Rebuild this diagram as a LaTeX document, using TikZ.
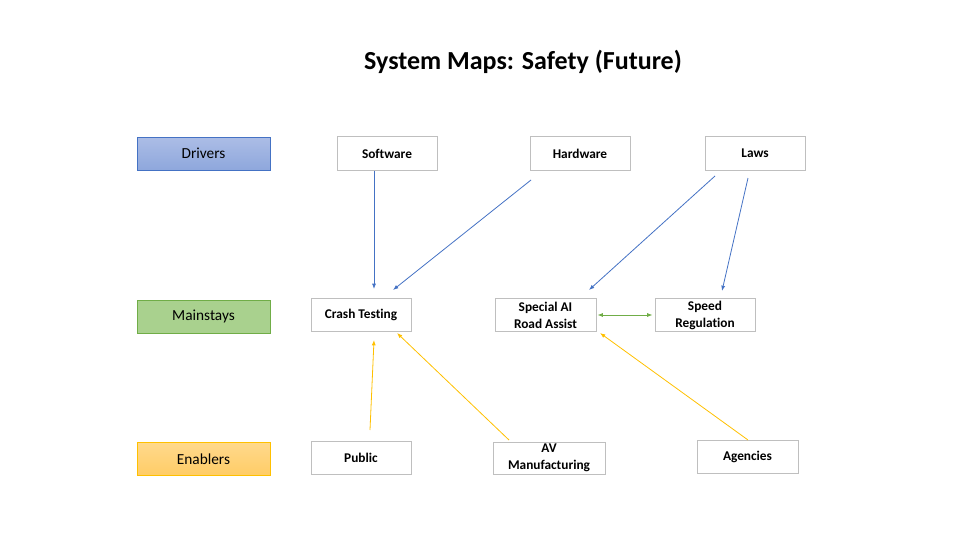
\documentclass[tikz,border=0pt]{standalone}
\usepackage{fontspec}
\setmainfont{Carlito}[Ligatures=NoCommon]
\usetikzlibrary{arrows.meta}

\definecolor{drvline}{RGB}{68,114,196}
\definecolor{drvtop}{RGB}{172,189,230}
\definecolor{drvbot}{RGB}{142,167,220}
\definecolor{mstline}{RGB}{112,173,71}
\definecolor{mstfill}{RGB}{169,209,142}
\definecolor{enbline}{RGB}{255,192,0}
\definecolor{enbtop}{RGB}{255,217,140}
\definecolor{enbbot}{RGB}{255,204,102}
\definecolor{boxline}{RGB}{191,191,191}

\tikzset{every picture/.style={line width=0.75pt}}
\tikzset{
  catbox/.style={minimum width=99.75pt,minimum height=24.75pt,inner sep=0pt,font=\fontsize{11.5}{13}\selectfont},
  itembox/.style={draw=boxline,fill=white,minimum width=75pt,minimum height=25pt,inner sep=0pt,align=center,font=\bfseries\fontsize{10}{12.75}\selectfont},
  drvarrow/.style={draw=drvline,line width=0.6pt,-{Latex[length=4pt,width=3pt]}},
  mstarrow/.style={draw=mstline,line width=0.6pt,{Latex[length=4pt,width=3pt]}-{Latex[length=4pt,width=3pt]}},
  enbarrow/.style={draw=enbline,line width=0.6pt,-{Latex[length=4pt,width=3pt]}}
}

\begin{document}
\begin{tikzpicture}[x=0.75pt,y=0.75pt,yscale=-1,xscale=1]
\useasboundingbox (0,0) rectangle (960,540);

% Title
\node (title) at (523,62) {\bfseries\fontsize{19.5}{23}\selectfont System Maps: Safety (Future)};

%Shape: Rectangle (categories)
\node [catbox,draw=drvline,top color=drvtop,bottom color=drvbot] (drivers) at (203.5,153.5) {Drivers};
\node [catbox,draw=mstline,fill=mstfill] (mainstays) at (203.5,316.5) {Mainstays};
\node [catbox,draw=enbline,top color=enbtop,bottom color=enbbot] (enablers) at (203.5,459) {Enablers};

% Drivers
\node [itembox] (software) at (387,153.5) {Software};
\node [itembox] (hardware) at (580,153.5) {Hardware};
\node [itembox] (laws) at (755,153.5) {Laws};

% Mainstays
\node [itembox] (crash) at (361,315) {Crash Testing};
\node [itembox,minimum width=75.75pt] (special) at (545.5,315) {Special AI\\Road Assist};
\node [itembox] (speed) at (705,315) {Speed\\Regulation};

% Enablers
\node [itembox] (public) at (361,458) {Public};
\node [itembox,minimum width=84pt,minimum height=24pt] (avman) at (549,458) {AV\\Manufacturing};
\node [itembox,minimum width=75.75pt] (agencies) at (747.5,457) {Agencies};

% free ends of the connectors
\coordinate (sw-in) at (374,289);
\coordinate (hw-out) at (531,180);
\coordinate (hw-in) at (393,290);
\coordinate (lw-out1) at (715,176);
\coordinate (lw-in1) at (589,290);
\coordinate (lw-out2) at (748,178);
\coordinate (lw-in2) at (722,291);
\coordinate (pb-out) at (370,430);
\coordinate (pb-in) at (374,340);
\coordinate (av-out) at (509,440);
\coordinate (av-in) at (397,333);
\coordinate (ag-out) at (748,440);
\coordinate (ag-in) at (600,333);

%Straight Lines (drivers)
\draw [drvarrow] (software.south -| sw-in) -- (sw-in);
\draw [drvarrow] (hw-out) -- (hw-in);
\draw [drvarrow] (lw-out1) -- (lw-in1);
\draw [drvarrow] (lw-out2) -- (lw-in2);

%Straight Lines (mainstays)
\draw [mstarrow] ([xshift=0.75pt]special.east) -- ([xshift=-1.5pt]speed.west);

%Straight Lines (enablers)
\draw [enbarrow] (pb-out) -- (pb-in);
\draw [enbarrow] (av-out) -- (av-in);
\draw [enbarrow] (ag-out) -- (ag-in);

\end{tikzpicture}
\end{document}
